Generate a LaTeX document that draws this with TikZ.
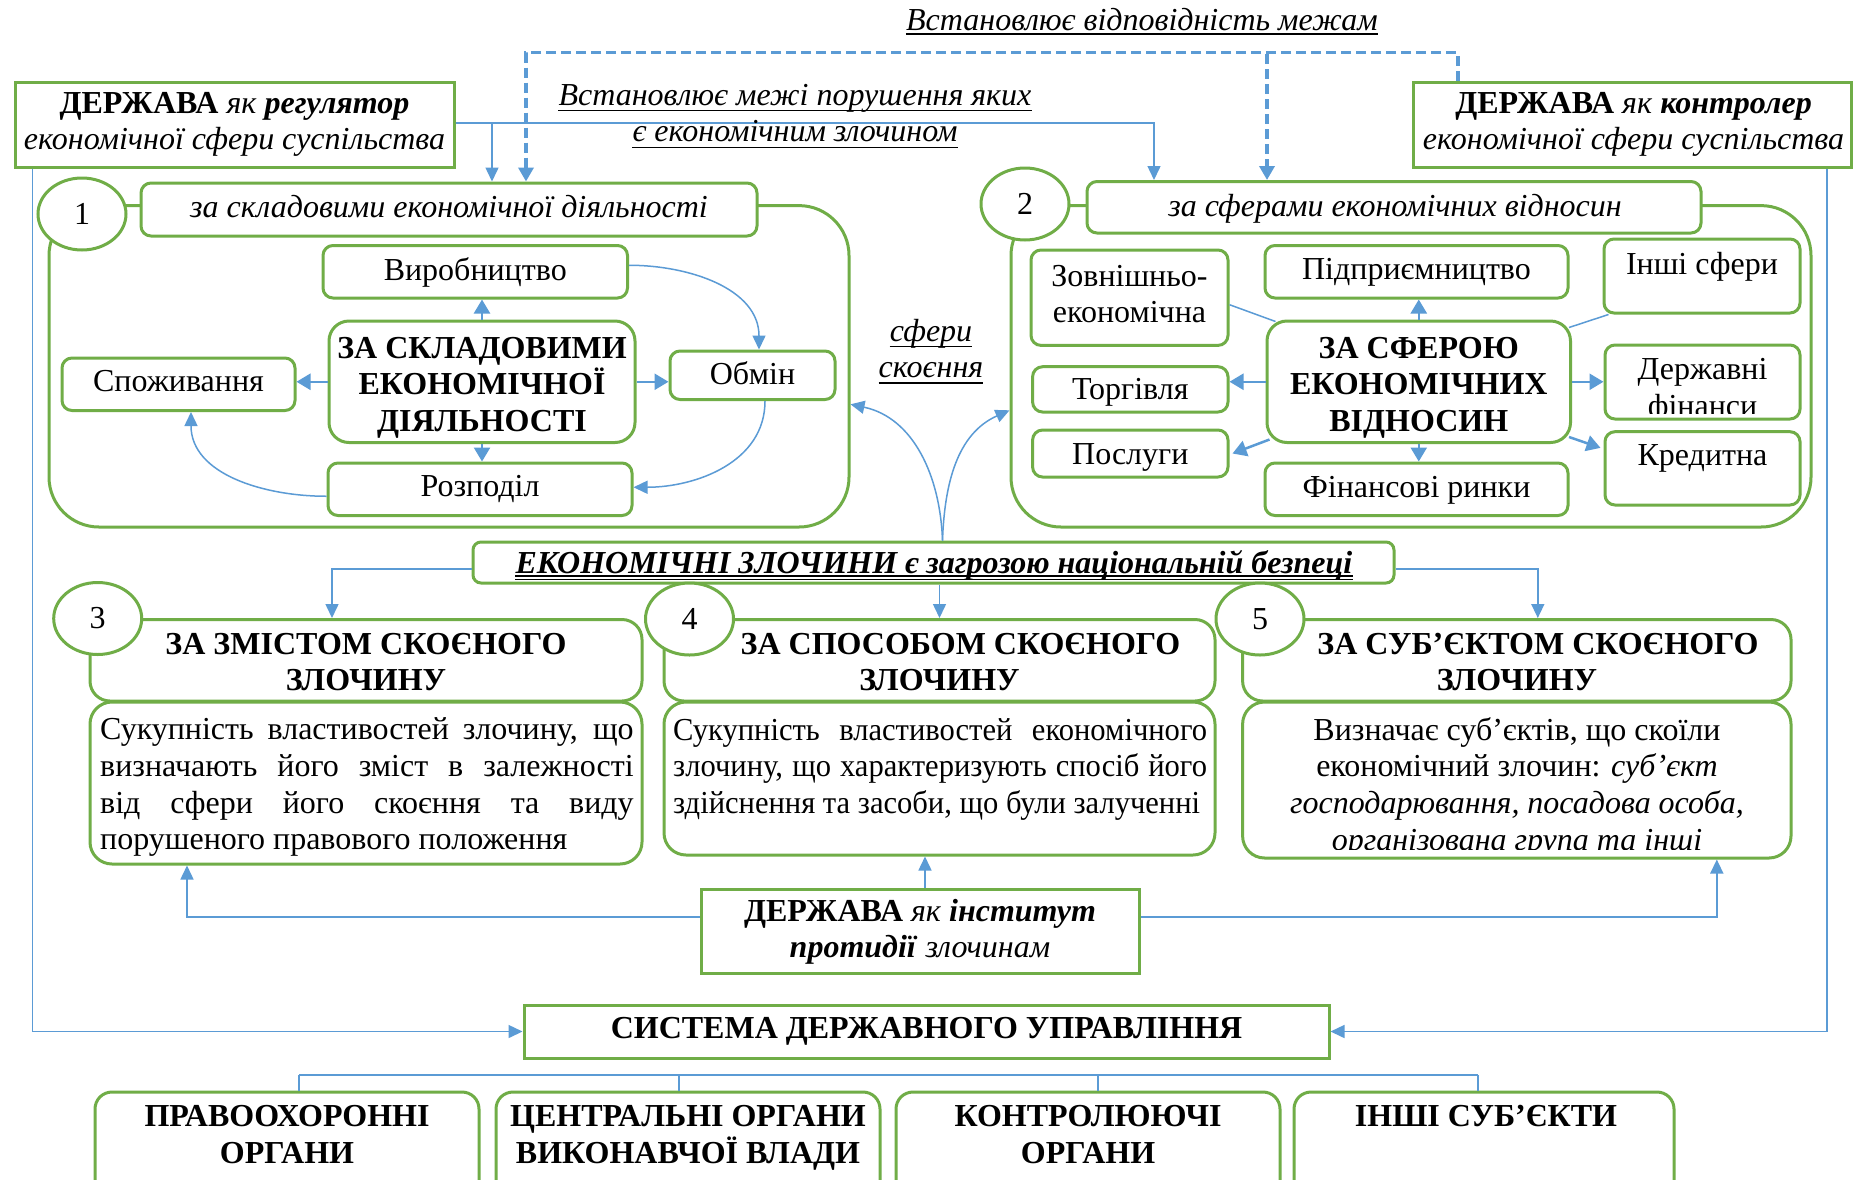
\documentclass[tikz,border=0pt]{standalone}
\usepackage{fontspec}
\setmainfont{Liberation Serif}
\usetikzlibrary{arrows.meta,shapes.geometric}
\definecolor{GreenC}{RGB}{112,173,71}
\definecolor{BlueC}{RGB}{91,155,213}
\newcommand\myfs{\fontsize{32}{36.7}\selectfont}
\newcommand\cstk[1]{\vtop{\ialign{\hfil##\hfil\cr#1\crcr}}}
\newcommand\lstk[1]{\vtop{\ialign{##\hfil\cr#1\crcr}}}
\tikzset{
 gbox/.style={draw=GreenC, line width=3pt, fill=white, inner sep=0pt, rounded corners=10pt},
 sbox/.style={draw=GreenC, line width=3pt, fill=white, inner sep=0pt},
 circ/.style={ellipse, draw=GreenC, line width=3pt, fill=white, inner sep=0pt, minimum width=88pt, minimum height=72pt, font=\myfs},
 txt/.style={inner sep=0pt, anchor=base, font=\myfs},
 conn/.style={draw=BlueC, line width=1.5pt, -{Triangle[length=14pt,width=13pt]}},
 plainline/.style={draw=BlueC, line width=1.5pt},
 sarr/.style={draw=BlueC, line width=2.5pt, -{Triangle[length=14pt,width=16pt]}},
 dconn/.style={draw=BlueC, line width=3.5pt, dash pattern=on 10pt off 5pt, -{Triangle[length=14pt,width=15pt]}},
 uline/.style={draw=black, line width=1.8pt},
}
\begin{document}
\begin{tikzpicture}[x=1pt,y=1pt]
\useasboundingbox (0,0) rectangle (1863,-1179);
\clip (0,0) rectangle (1863,-1179);
\fill[white] (0,0) rectangle (1863,-1179);

% top boxes
\node[sbox, minimum width=439pt, minimum height=85pt] (R1) at (234.5,-124.5) {};
\node[sbox, minimum width=438pt, minimum height=85pt] (R2) at (1632,-124.5) {};

% containers
\node[gbox, rounded corners=50pt, fill=none, minimum width=800pt, minimum height=321.4pt] (cont1) at (449,-366.3) {};
\node[gbox, rounded corners=50pt, fill=none, minimum width=800pt, minimum height=321.4pt] (cont2) at (1411,-366.3) {};
\node[gbox, minimum width=616pt, minimum height=53pt] (H1) at (449,-209.5) {};
\node[gbox, minimum width=614pt, minimum height=51.5pt] (H2) at (1394,-207.25) {};
\node[circ] (n1) at (82,-214) {1};
\node[circ] (n2) at (1025,-204) {2};

% cluster 1
\node[gbox, minimum width=304.5pt, minimum height=52.5pt] (V) at (475.25,-271.75) {};
\node[gbox, rounded corners=20pt, minimum width=306pt, minimum height=121.5pt] (C1) at (482,-381.75) {};
\node[gbox, minimum width=233pt, minimum height=52.5pt] (S) at (178.5,-384.25) {};
\node[gbox, minimum width=165pt, minimum height=48.5pt] (O) at (752.5,-375.25) {};
\node[gbox, minimum width=304pt, minimum height=52.5pt] (P) at (480,-489.25) {};

% cluster 2
\node[gbox, minimum width=197pt, minimum height=95.4pt] (Z) at (1129.5,-297.7) {};
\node[gbox, minimum width=303pt, minimum height=52.5pt] (Pd) at (1416.5,-271.75) {};
\node[gbox, minimum width=196pt, minimum height=74pt] (In) at (1702,-276) {};
\node[gbox, rounded corners=20pt, minimum width=303.5pt, minimum height=121.5pt] (C2) at (1418.75,-381.75) {};
\node[gbox, minimum width=195.4pt, minimum height=45.3pt] (T) at (1130.3,-389.35) {};
\node[gbox, minimum width=195pt, minimum height=74pt] (DF) at (1702.5,-382) {};
\node[gbox, minimum width=195.4pt, minimum height=47pt] (Pos) at (1130.3,-453.5) {};
\node[gbox, minimum width=195pt, minimum height=73.3pt] (K) at (1702.5,-468.35) {};
\node[gbox, minimum width=303pt, minimum height=52.5pt] (F) at (1416.5,-489.25) {};

% middle
\node[gbox, rounded corners=8pt, minimum width=921pt, minimum height=41pt] (EZ) at (933.5,-562.5) {};

% row 3
\node[gbox, rounded corners=20pt, minimum width=552pt, minimum height=81.5pt] (H3) at (366,-660.25) {};
\node[gbox, rounded corners=20pt, minimum width=551pt, minimum height=81.5pt] (H4) at (939.5,-660.25) {};
\node[gbox, rounded corners=20pt, minimum width=548.4pt, minimum height=81.5pt] (H5) at (1516.8,-660.25) {};
\node[gbox, rounded corners=22pt, minimum width=552pt, minimum height=162pt] (D3) at (366,-783) {};
\node[gbox, rounded corners=22pt, minimum width=551pt, minimum height=153pt] (D4) at (939.5,-778.5) {};
\node[gbox, rounded corners=22pt, minimum width=548.4pt, minimum height=156pt] (D5) at (1516.8,-780) {};
\node[circ] (n3) at (97.7,-618.5) {3};
\node[circ] (n4) at (689.5,-619) {4};
\node[circ] (n5) at (1260,-619) {5};

\node[sbox, minimum width=438pt, minimum height=84pt] (I) at (920,-931) {};
\node[sbox, minimum width=805pt, minimum height=53pt] (SYS) at (926.5,-1031.5) {};

\node[gbox, rounded corners=17pt, minimum width=384pt, minimum height=118pt] (B1) at (287,-1151) {};
\node[gbox, rounded corners=17pt, minimum width=384pt, minimum height=118pt] (B2) at (688,-1151) {};
\node[gbox, rounded corners=17pt, minimum width=384pt, minimum height=118pt] (B3) at (1088,-1151) {};
\node[gbox, rounded corners=17pt, minimum width=380pt, minimum height=118pt] (B4) at (1484,-1151) {};

% ---------- connectors
\coordinate (j1) at (492,-123);
\draw[conn] ([yshift=1.5pt]R1.east) -| ([xshift=-240pt]H2.north);
\draw[conn] (j1) -- (j1 |- H1.north);
\coordinate (d1) at (1267,-54);
\draw[dconn] ([xshift=-174pt]R2.north) -- ++(0,28) -| ([xshift=77pt]H1.north);
\draw[dconn] (d1) -- (d1 |- H2.north);
\draw[conn] ([xshift=-202pt]R1.south) |- (SYS.west);
\draw[conn] ([xshift=195pt]R2.south) |- (SYS.east);

\draw[sarr] (C1.north) -- (C1.north |- V.south);
\draw[sarr] (C1.west) -- (C1.west -| S.east);
\draw[sarr] (C1.east) -- (C1.east -| O.west);
\draw[sarr] (C1.south) -- (C1.south |- P.north);
\draw[conn] ([yshift=6.5pt]V.east) to[out=0,in=90] ([xshift=6.5pt]O.north);
\draw[conn] ([xshift=12.5pt]O.south) to[out=-90,in=0] ([yshift=2pt]P.east);
\draw[conn] ([yshift=-7pt]P.west) to[out=180,in=-90] ([xshift=12.5pt]S.south);

\draw[plainline] ([yshift=-7pt]Z.east) -- ([xshift=10pt,yshift=-2pt]C2.north west);
\draw[plainline] ([xshift=-3pt,yshift=-8pt]C2.north east) -- ([xshift=6pt]In.south west);
\draw[sarr] (C2.north) -- (C2.north |- Pd.south);
\draw[sarr] (C2.west) -- (C2.west -| T.east);
\draw[sarr] (C2.east) -- (C2.east -| DF.west);
\draw[sarr] ([xshift=4pt,yshift=4.5pt]C2.south west) -- ([xshift=3pt]Pos.east);
\draw[sarr] ([xshift=-3pt,yshift=7pt]C2.south east) -- ([xshift=-3pt,yshift=20.5pt]K.west);
\draw[sarr] (C2.south) -- (C2.south |- F.north);

\draw[conn] ([xshift=9pt]EZ.north) to[out=92,in=-12] ([yshift=-38pt]cont1.east);
\draw[conn] ([xshift=9pt]EZ.north) to[out=88,in=204] ([yshift=-44pt]cont2.west);
\draw[conn] ([yshift=-6.5pt]EZ.west) -| ([xshift=-34pt]H3.north);
\draw[conn] ([yshift=-6.5pt]EZ.east) -| ([xshift=21pt]H5.north);
\draw[conn] (EZ.south -| H4.north) -- (H4.north);

\draw[conn] ([yshift=14pt]I.west) -| ([xshift=-179pt]D3.south);
\draw[conn] ([yshift=14pt]I.east) -| ([xshift=200pt]D5.south);
\coordinate (iu) at ([xshift=5pt]I.north);
\draw[conn] (iu) -- (iu |- D4.south);

\coordinate (b1) at (299,-1075);
\coordinate (b2) at (679,-1075);
\coordinate (b3) at (1098,-1075);
\coordinate (b4) at (1478,-1075);
\draw[plainline] (b1) -- (b4);
\draw[plainline] (b1) -- (b1 |- B1.north);
\draw[plainline] (b2) -- (b2 |- B2.north);
\draw[plainline] (b3) -- (b3 |- B3.north);
\draw[plainline] (b4) -- (b4 |- B4.north);

% ---------- texts
\node[txt] (LA) at (1142,-30) {\itshape Встановлює відповідність межам};
\draw[uline] ([yshift=-4pt]LA.base west) -- ([yshift=-4pt]LA.base east);
\node[txt] (LB1) at (795,-105.5) {\itshape Встановлює межі порушення яких};
\draw[uline] ([yshift=-5pt]LB1.base west) -- ([yshift=-5pt]LB1.base east);
\node[txt] (LB2) at (795,-141.5) {\itshape є економічним злочином};
\draw[uline] ([yshift=-6pt]LB2.base west) -- ([yshift=-6pt]LB2.base east);

\node[txt] (tR1) at (234.5,-113) {\cstk{\textbf{ДЕРЖАВА} \textit{як} \textbf{\textit{регулятор}}\cr\textit{економічної сфери суспільства}}};
\node[txt] (tR2) at (1633.5,-113) {\cstk{\textbf{ДЕРЖАВА} \textit{як} \textbf{\textit{контролер}}\cr\textit{економічної сфери суспільства}}};
\node[txt] (tH1) at (449,-217.5) {\itshape за складовими економічної діяльності};
\node[txt] (tH2) at (1395,-216) {\itshape за сферами економічних відносин};

\node[txt] (tV) at (475.25,-280) {Виробництво};
\node[txt] (tC1) at (482,-358) {\bfseries\cstk{ЗА СКЛАДОВИМИ\cr ЕКОНОМІЧНОЇ\cr ДІЯЛЬНОСТІ}};
\node[txt] (tS) at (178.5,-391) {Споживання};
\node[txt] (tO) at (752.5,-384) {Обмін};
\node[txt] (tP) at (480,-496) {Розподіл};

\node[txt] (tZ) at (1129.5,-286) {\cstk{Зовнішньо-\cr економічна}};
\node[txt] (tPd) at (1416.5,-279) {Підприємництво};
\node[txt] (tIn) at (1702,-274) {Інші сфери};
\node[txt] (tC2) at (1418.75,-358) {\bfseries\cstk{ЗА СФЕРОЮ\cr ЕКОНОМІЧНИХ\cr ВІДНОСИН}};
\node[txt] (tT) at (1130.3,-399.5) {Торгівля};
\begin{scope}
\clip (1606,-345) rectangle (1800,-413.3);
\node[txt] (tDF) at (1702.5,-379.5) {\cstk{Державні\cr фінанси}};
\end{scope}
\node[txt] (tPos) at (1130.3,-464) {Послуги};
\node[txt] (tK) at (1702.5,-465) {Кредитна};
\node[txt] (tF) at (1416.5,-497.6) {Фінансові ринки};

\node[txt] (sf1) at (931,-341.5) {\itshape сфери};
\draw[uline] ([yshift=-5pt]sf1.base west) -- ([yshift=-5pt]sf1.base east);
\node[txt] (sf2) at (931,-377.5) {\itshape скоєння};
\draw[uline] ([yshift=-5.5pt]sf2.base west) -- ([yshift=-5.5pt]sf2.base east);

\node[txt] (tEZ) at (934,-573.5) {\bfseries\itshape ЕКОНОМІЧНІ ЗЛОЧИНИ є загрозою національній безпеці};
\draw[draw=black, line width=1.6pt] ([yshift=-2.5pt]tEZ.base west) -- ([yshift=-2.5pt]tEZ.base east);
\draw[draw=black, line width=1pt] ([yshift=-5.8pt]tEZ.base west) -- ([yshift=-5.8pt]tEZ.base east);

\node[txt] (tH3) at (366,-654) {\bfseries\cstk{ЗА ЗМІСТОМ СКОЄНОГО\cr ЗЛОЧИНУ}};
\node[txt] (tH4) at (939.5,-654) {\bfseries\cstk{\hspace*{42pt}ЗА СПОСОБОМ СКОЄНОГО\cr ЗЛОЧИНУ}};
\node[txt] (tH5) at (1517,-654) {\bfseries\cstk{\hspace*{42pt}ЗА СУБ’ЄКТОМ СКОЄНОГО\cr ЗЛОЧИНУ}};

\node[txt, anchor=base west] (tD3) at (100,-739.7) {\lstk{\hbox to 533.5pt{Сукупність властивостей злочину, що}\cr
\hbox to 533.5pt{визначають його зміст в залежності}\cr
\hbox to 533.5pt{від сфери його скоєння та виду}\cr
порушеного правового положення}};
\node[txt, anchor=base west] (tD4) at (673,-740) {\scalebox{0.955}[1]{\lstk{\hbox to 559pt{Сукупність властивостей економічного}\cr
\hbox to 559pt{злочину, що характеризують спосіб його}\cr
здійснення та засоби, що були залученні}}};
\begin{scope}
\clip (1244,-703.5) rectangle (1790,-849.3);
\node[txt] (tD5) at (1517,-740) {\cstk{Визначає суб’єктів, що скоїли\cr
економічний злочин: \textit{суб’єкт}\cr
\textit{господарювання, посадова особа,}\cr
\textit{організована група та інші}}};
\end{scope}

\node[txt] (tI) at (920,-921) {\cstk{\textbf{ДЕРЖАВА} \textit{як} \textbf{\textit{інститут}}\cr\textbf{\textit{протидії}} \textit{злочинам}}};
\node[txt] (tSYS) at (926.5,-1038.3) {\bfseries СИСТЕМА ДЕРЖАВНОГО УПРАВЛІННЯ};

\node[txt] (tB1) at (287,-1126.7) {\bfseries\cstk{ПРАВООХОРОННІ\cr ОРГАНИ}};
\node[txt] (tB2) at (688,-1126.7) {\bfseries\cstk{ЦЕНТРАЛЬНІ ОРГАНИ\cr ВИКОНАВЧОЇ ВЛАДИ}};
\node[txt] (tB3) at (1088,-1126.7) {\bfseries\cstk{КОНТРОЛЮЮЧІ\cr ОРГАНИ}};
\node[txt] (tB4) at (1486,-1126.7) {\bfseries ІНШІ СУБ’ЄКТИ};
\end{tikzpicture}
\end{document}
